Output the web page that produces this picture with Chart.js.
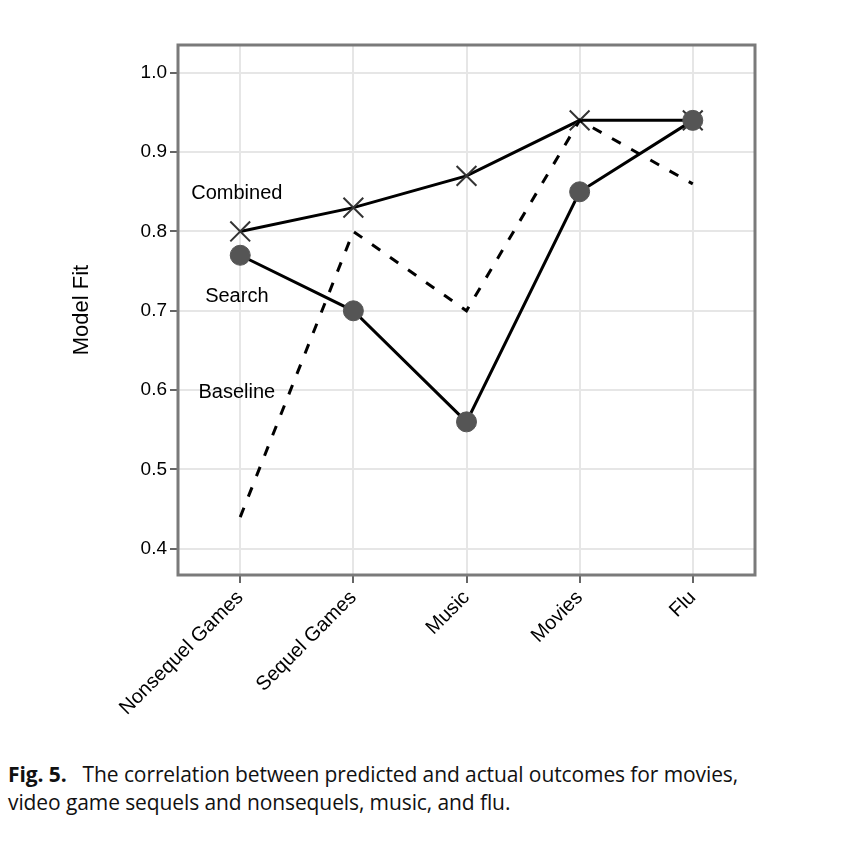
<!DOCTYPE html>
<html>
<head>
<meta charset="utf-8">
<script src="https://cdn.jsdelivr.net/npm/chart.js@4"></script>
<style>
  body { margin: 0; background: #fff; }
  #wrap { position: relative; width: 842px; height: 740px; }
  #caption { font-family: "Open Sans", sans-serif; font-size: 21px; line-height: 28px; color: #111; margin: 20px 0 0 8px; letter-spacing: -0.1px; }
</style>
</head>
<body>
<div id="wrap"><canvas id="fit" width="842" height="740"></canvas></div>
<div id="caption"><b>Fig. 5.</b>&nbsp;&nbsp; The correlation between predicted and actual outcomes for movies,<br>video game sequels and nonsequels, music, and flu.</div>
<script>
// Categories and model fit values
const categories = ['Nonsequel Games', 'Sequel Games', 'Music', 'Movies', 'Flu'];
const combined = [0.80, 0.83, 0.87, 0.94, 0.94];
const search = [0.77, 0.70, 0.56, 0.85, 0.94];
const baseline = [0.44, 0.80, 0.70, 0.94, 0.86];
const yTicks = [0.4, 0.5, 0.6, 0.7, 0.8, 0.9, 1.0];

// Series labels placed next to the first category
const seriesLabels = [
  { text: 'Combined', x: -0.03, y: 0.848 },
  { text: 'Search', x: -0.03, y: 0.718 },
  { text: 'Baseline', x: -0.03, y: 0.597 }
];

const FONT = '"Liberation Sans", Arial, sans-serif';
const toPoints = arr => arr.map((v, i) => ({ x: i, y: v }));

const labelPlugin = {
  id: 'seriesLabels',
  afterDatasetsDraw(chart) {
    const { ctx, scales } = chart;
    ctx.save();
    ctx.font = '20px ' + FONT;
    ctx.fillStyle = '#000';
    ctx.textAlign = 'center';
    ctx.textBaseline = 'middle';
    seriesLabels.forEach(l => {
      ctx.fillText(l.text, scales.x.getPixelForValue(l.x), scales.y.getPixelForValue(l.y));
    });
    // y axis title
    const a = chart.chartArea;
    ctx.translate(82, (a.top + a.bottom) / 2);
    ctx.rotate(-Math.PI / 2);
    ctx.font = '22px ' + FONT;
    ctx.fillText('Model Fit', 0, 0);
    ctx.restore();
  }
};

const borderPlugin = {
  id: 'plotBorder',
  afterDraw(chart) {
    const a = chart.chartArea, ctx = chart.ctx;
    ctx.save();
    ctx.strokeStyle = '#7a7a7a';
    ctx.lineWidth = 3;
    ctx.strokeRect(a.left, a.top, a.right - a.left, a.bottom - a.top);
    ctx.restore();
  }
};

new Chart(document.getElementById('fit'), {
  type: 'line',
  data: {
    datasets: [
      {
        label: 'Baseline', data: toPoints(baseline),
        borderColor: '#000', borderWidth: 3, borderDash: [10, 12],
        pointRadius: 0
      },
      {
        label: 'Search', data: toPoints(search),
        borderColor: '#000', borderWidth: 3,
        pointRadius: 10, pointBackgroundColor: '#555', pointBorderColor: '#555', pointBorderWidth: 1
      },
      {
        label: 'Combined', data: toPoints(combined),
        borderColor: '#000', borderWidth: 3,
        pointStyle: 'crossRot', pointRadius: 14, pointBorderColor: '#333', pointBorderWidth: 2
      }
    ]
  },
  options: {
    responsive: false,
    animation: false,
    layout: { padding: { top: 45, right: 87, left: 0, bottom: 0 } },
    plugins: { legend: { display: false }, tooltip: { enabled: false } },
    scales: {
      x: {
        type: 'linear', min: -0.55, max: 4.55,
        afterBuildTicks: s => { s.ticks = categories.map((c, i) => ({ value: i })); },
        afterFit: s => { s.height = 165; },
        grid: { color: '#e6e6e6', lineWidth: 2, tickLength: 8, tickColor: '#666' },
        border: { display: false },
        ticks: {
          callback: v => categories[v],
          maxRotation: 45, minRotation: 45,
          color: '#000', font: { size: 20, family: FONT }
        }
      },
      y: {
        min: 0.367, max: 1.035,
        afterBuildTicks: s => { s.ticks = yTicks.map(v => ({ value: v })); },
        afterFit: s => { s.width = 178; },
        grid: { color: '#e6e6e6', lineWidth: 2, tickLength: 8, tickColor: '#666' },
        border: { display: false },
        ticks: {
          callback: v => v.toFixed(1),
          color: '#000', font: { size: 19, family: FONT }
        }
      }
    }
  },
  plugins: [labelPlugin, borderPlugin]
});
</script>
</body>
</html>
